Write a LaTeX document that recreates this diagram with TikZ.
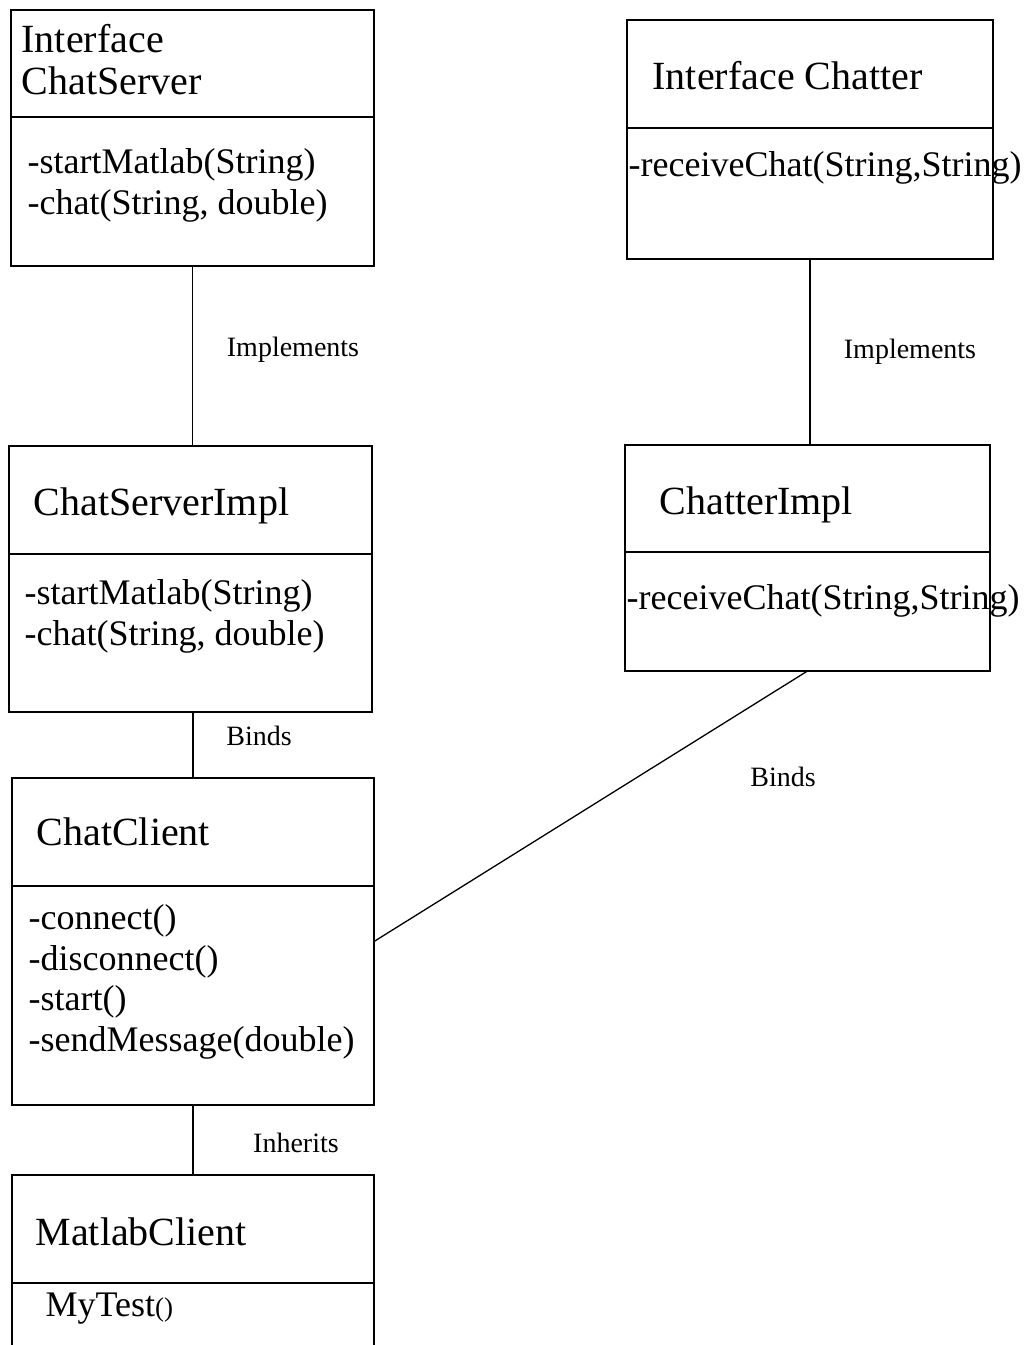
\documentclass[tikz,border=0pt]{standalone}
\usepackage{fontspec}
\setmainfont{Liberation Serif}
\begin{document}
\begin{tikzpicture}[x=1pt,y=-1pt, line width=1.3pt,
  box/.style={draw, rectangle, anchor=north west, inner sep=0pt, outer sep=0pt},
  openbox/.style={rectangle, anchor=north west, inner sep=0pt, outer sep=0pt},
  hdr/.style={anchor=base west, inner sep=0pt, font=\fontsize{40}{42}\selectfont},
  mth/.style={anchor=base west, inner sep=0pt, font=\fontsize{36}{41}\selectfont},
  lbl/.style={anchor=base, inner sep=0pt, font=\fontsize{28}{30}\selectfont}]
\useasboundingbox (0,0) rectangle (1027,1345);
\fill[white] (0,0) rectangle (1027,1345);

% Interface ChatServer
\node[box, minimum width=363pt, minimum height=256pt] (ics) at (11,10) {};
\draw (ics.west |- 0,117) -- (ics.east |- 0,117);
\node[hdr] (ics1) at (21,52) {Interface};
\node[hdr] (ics2) at (21,94) {ChatServer};
\node[mth] (ics3) at (27,173) {-startMatlab(String)};
\node[mth] (ics4) at (27,214) {-chat(String, double)};

% Interface Chatter
\node[box, minimum width=366pt, minimum height=239pt] (ich) at (627,20) {};
\draw (ich.west |- 0,128) -- (ich.east |- 0,128);
\node[hdr] (ich1) at (652,89) {Interface Chatter};
\node[mth] (ich2) at (628,176) {-receiveChat(String,String)};

% ChatServerImpl
\node[box, minimum width=363pt, minimum height=266pt] (csi) at (9,446) {};
\draw (csi.west |- 0,554) -- (csi.east |- 0,554);
\node[hdr] (csi1) at (33,515) {ChatServerImpl};
\node[mth] (csi2) at (24,604) {-startMatlab(String)};
\node[mth] (csi3) at (24,645) {-chat(String, double)};

% ChatterImpl
\node[box, minimum width=365pt, minimum height=226pt] (chi) at (625,445) {};
\draw (chi.west |- 0,552) -- (chi.east |- 0,552);
\node[hdr] (chi1) at (659,514) {ChatterImpl};
\node[mth] (chi2) at (626,609) {-receiveChat(String,String)};

% ChatClient
\node[box, minimum width=362pt, minimum height=327pt] (cc) at (12,778) {};
\draw (cc.west |- 0,886) -- (cc.east |- 0,886);
\node[hdr] (cc1) at (36,845) {ChatClient};
\node[mth] (cc2) at (28,929) {-connect()};
\node[mth] (cc3) at (28,970) {-disconnect()};
\node[mth] (cc4) at (28,1010) {-start()};
\node[mth] (cc5) at (28,1051) {-sendMessage(double)};

% MatlabClient (open at the bottom edge)
\node[openbox, minimum width=362pt, minimum height=170pt] (mc) at (12,1175) {};
\draw (mc.south west) -- (mc.north west) -- (mc.north east) -- (mc.south east);
\draw (mc.west |- 0,1283) -- (mc.east |- 0,1283);
\node[hdr] (mc1) at (35,1245) {MatlabClient};
\node[mth] (mc2) at (45,1316) {MyTest{\fontsize{27}{30}\selectfont()}};

% connectors
\draw (ics.south) -- (ics.south |- csi.north);
\draw (ich.south) -- (ich.south |- chi.north);
\draw (cc.north) -- (cc.north |- csi.south);
\draw (chi.south) -- (cc.east);
\draw (cc.south) -- (mc.north);

% labels
\node[lbl] (l1) at (293,356) {Implements};
\node[lbl] (l2) at (910,358) {Implements};
\node[lbl] (l3) at (259,745) {Binds};
\node[lbl] (l4) at (783,786) {Binds};
\node[lbl] (l5) at (296,1152) {Inherits};
\end{tikzpicture}
\end{document}
